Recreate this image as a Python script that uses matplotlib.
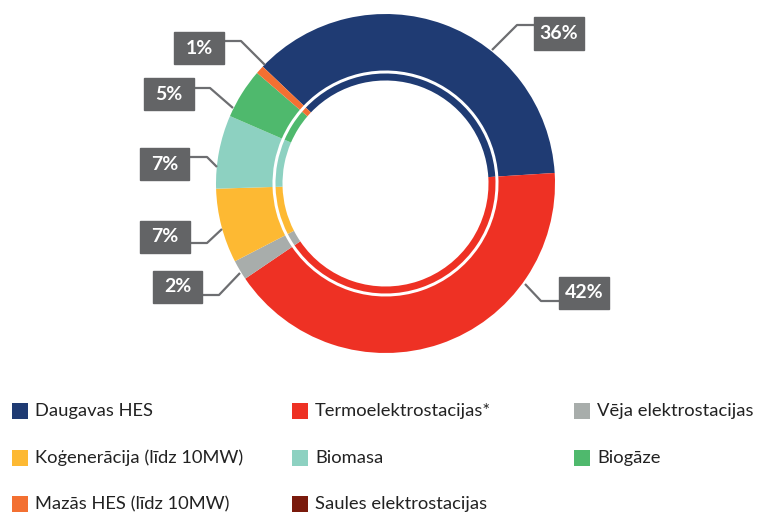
import matplotlib
matplotlib.use("Agg")
import matplotlib.pyplot as plt
from matplotlib.patches import Rectangle

plt.rcParams['font.family'] = ['Lato', 'DejaVu Sans']

# data
categories = ["Daugavas HES", "Termoelektrostacijas*", "Vēja elektrostacijas",
              "Koģenerācija (līdz 10MW)", "Biomasa", "Biogāze",
              "Mazās HES (līdz 10MW)", "Saules elektrostacijas"]
shares = [36.9, 41.5, 1.9, 7.1, 7.0, 4.8, 0.8, 0.0]
pct_labels = ["36%", "42%", "2%", "7%", "7%", "5%", "1%", None]
colors = ["#1f3b73", "#ee3124", "#a8adab", "#fdb933", "#8dd1c1",
          "#4fb96d", "#f37032", "#7a1a0c"]

W, H = 758, 512
fig = plt.figure(figsize=(W / 100, H / 100), dpi=100)
ax = fig.add_axes([0, 0, 1, 1])

cx, cy = 385.5, H - 183.5
R = 169.5

ax.pie(shares, colors=colors, startangle=136.4, counterclock=False,
       center=(cx, cy), radius=R, wedgeprops=dict(width=56.5, linewidth=0))
ax.pie(shares, colors=colors, startangle=136.4, counterclock=False,
       center=(cx, cy), radius=110, wedgeprops=dict(width=7, linewidth=0))

# label boxes: (box left, box top, box right, box bottom) and leader line points (px from top)
label_layout = [
    ((534, 17, 584, 50), [(534, 25), (517, 25), (492, 50)]),
    ((559, 277, 609, 309), [(559, 301), (541, 301), (525, 284)]),
    ((153, 271, 202, 303), [(202, 295), (219, 295), (240, 273)]),
    ((140, 221, 190, 253), [(190, 243), (207, 243), (222, 229)]),
    ((140, 148, 189, 180), [(189, 157), (207, 157), (217, 167)]),
    ((144, 78, 194, 110), [(194, 88), (210, 88), (233, 108)]),
    ((174, 32, 224, 64), [(224, 41), (241, 41), (265, 65)]),
]
for lab, (box, pts) in zip(pct_labels, label_layout):
    xs = [p[0] for p in pts]
    ys = [H - p[1] for p in pts]
    ax.plot(xs, ys, color="#6d6e71", lw=1.6, solid_capstyle="butt", zorder=3)
    x0, y0, x1, y1 = box
    ax.add_patch(Rectangle((x0, H - y1), x1 - x0, y1 - y0, color="#636466", zorder=4))
    ax.text((x0 + x1) / 2, H - (y0 + y1) / 2, lab, color="white", fontsize=14,
            fontweight="bold", ha="center", va="center", zorder=5)

# legend
col_x = [12, 292, 574]
row_y = [411, 458, 504]
for i, (name, c) in enumerate(zip(categories, colors)):
    x = col_x[i % 3]
    y = H - row_y[i // 3]
    ax.add_patch(Rectangle((x, y - 8), 16, 16, color=c, linewidth=0))
    ax.text(x + 23, y, name, fontsize=13.2, color="#222222", ha="left", va="center")

ax.set_xlim(0, W)
ax.set_ylim(0, H)
ax.set_aspect("auto")
ax.axis("off")

fig.savefig("out.png", dpi=100)
